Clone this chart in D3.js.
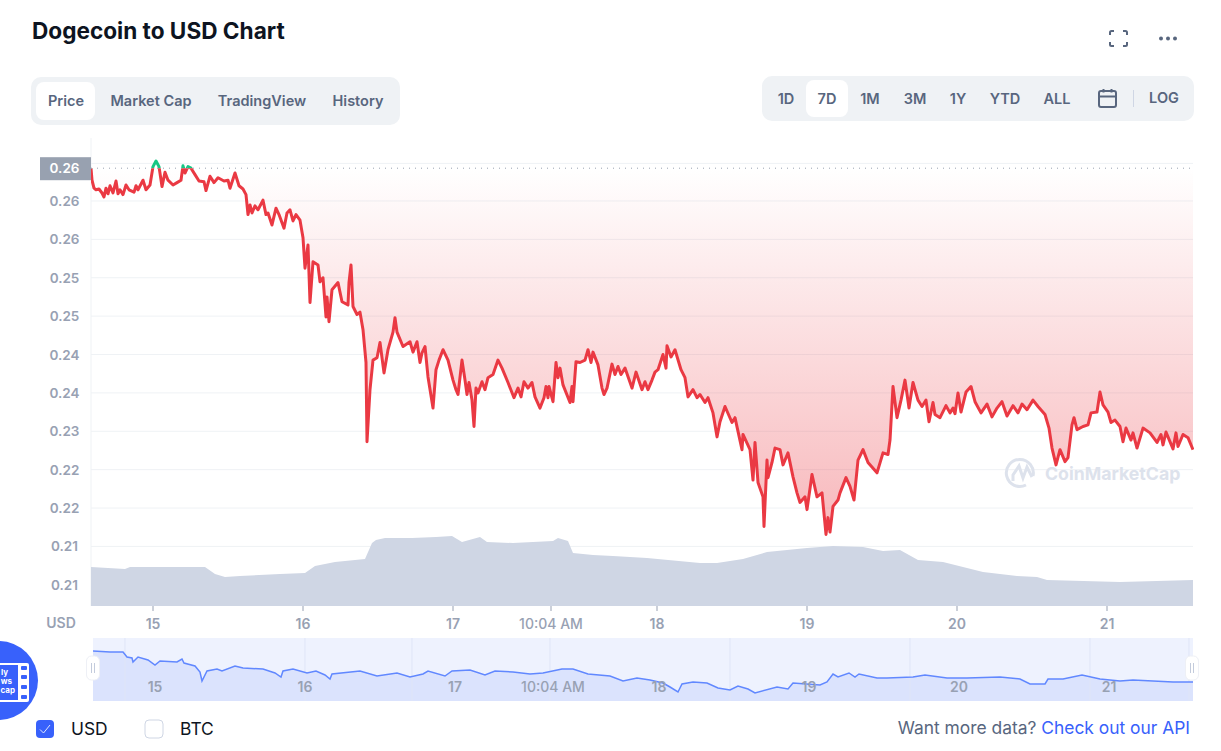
<!DOCTYPE html>
<html>
<head>
<meta charset="utf-8">
<title>Dogecoin to USD Chart</title>
<script src="https://cdn.jsdelivr.net/npm/d3@7"></script>
<style>
    html, body { margin: 0; padding: 0; background: #fff; overflow: hidden; }
    svg { display: block; font-family: Inter, "Noto Sans", sans-serif; }
</style>
</head>
<body>
<script>
// time is counted in samples along the axis, 150 samples make one day
const priceSamples = [0,1,3,5,8,11,13,15,17,19,22,25,27,29,32,35,38,43,45,47,52,55,59,62,65,68,71,74,77,82,86,90,92,94,97,100,104,108,113,115,119,123,127,133,137,139,144,148,152,155,157,159,161,164,167,172,175,177,181,185,188,193,196,199,202,205,209,212,
    214,217,219,222,227,229,232,235,236,238,241,247,251,257,258,260,262,266,269,272,275,276,279,282,286,289,293,297,302,304,306,312,319,322,326,
    329,331,334,337,342,345,348,352,357,362,365,367,371,374,376,378,381,383,385,387,391,394,397,402,407,411,417,423,427,430,433,437,441,444,449,453,455,457,458,462,465,467,469,472,479,481,482,485,489,494,497,500,502,507,511,513,516,521,524,527,530,534,541,545,551,554,557,561,564,567,572,575,576,580,584,590,594,597,602,606,609,614,617,622,626,629,
    634,641,644,651,652,659,662,664,667,672,673,676,677,681,684,689,692,697,702,706,709,714,716,721,726,731,735,737,739,742,747,749,755,759,763,767,772,777,786,792,797,
    799,802,806,810,814,818,822,827,831,835,838,842,844,849,855,859,862,864,867,870,875,880,884,890,896,901,906,911,916,922,927,931,936,942,947,954,958,961,965,969,974,977,981,983,986,992,997,1000,1006,1009,1012,1017,1020,1024,1029,1032,1035,1040,1042,1046,1052,1059,1066,1070,1072,1075,1082,1085,1087,1092,1097,1102];
const priceValues = [.2596,.2581,.2571,.2569,.2570,.2565,.2560,.2571,.2564,.2574,.2565,.2580,.2564,.2569,.2563,.2575,.2569,.2566,.2574,.2569,.2581,.2569,.2575,.2598,.2605,.2598,.2573,.2591,.2581,.2575,.2578,.2581,.2599,.2590,.2598,.2596,.2588,.2580,.2579,.2568,.2586,.2578,.2584,.2580,.2581,.2571,.2590,.2574,.2570,.2563,.2538,.2550,.2540,.2549,.2544,.2556,.2538,.2540,.2525,.2546,.2538,.2521,.2540,.2544,.2530,.2538,.2531,.2509,
    .2471,.2500,.2428,.2479,.2475,.2454,.2459,.2410,.2435,.2404,.2444,.2453,.2429,.2425,.2453,.2475,.2423,.2413,.2416,.2394,.2353,.2254,.2319,.2356,.2359,.2378,.2340,.2369,.2391,.2409,.2391,.2373,.2379,.2366,.2379,
    .2353,.2365,.2373,.2335,.2296,.2344,.2356,.2369,.2356,.2331,.2319,.2313,.2356,.2331,.2313,.2328,.2306,.2273,.2321,.2315,.2329,.2319,.2334,.2338,.2356,.2346,.2328,.2309,.2321,.2310,.2329,.2321,.2328,.2310,.2296,.2309,.2323,.2309,.2323,.2304,.2353,.2334,.2346,.2325,.2303,.2323,.2304,.2354,.2353,.2356,.2369,.2353,.2366,.2350,.2321,.2313,.2321,.2351,.2338,.2348,.2338,.2346,.2321,.2341,.2319,.2329,.2319,.2331,.2341,.2344,.2363,.2346,.2374,.2360,.2369,.2344,.2334,.2310,.2319,.2309,.2313,.2303,.2309,.2290,.2260,.2279,
    .2298,.2278,.2284,.2244,.2263,.2244,.2206,.2253,.2203,.2185,.2148,.2231,.2209,.2228,.2246,.2244,.2225,.2240,.2210,.2190,.2178,.2185,.2169,.2213,.2185,.2190,.2138,.2159,.2141,.2173,.2181,.2190,.2209,.2198,.2181,.2231,.2244,.2228,.2215,.2240,.2238,
    .2256,.2323,.2284,.2306,.2331,.2296,.2328,.2306,.2298,.2306,.2279,.2303,.2288,.2284,.2299,.2290,.2296,.2289,.2315,.2291,.2316,.2323,.2304,.2290,.2301,.2285,.2296,.2304,.2286,.2299,.2290,.2301,.2294,.2306,.2298,.2288,.2271,.2246,.2225,.2244,.2229,.2234,.2275,.2284,.2269,.2273,.2275,.2290,.2291,.2316,.2300,.2291,.2278,.2281,.2273,.2254,.2271,.2256,.2265,.2246,.2271,.2265,.2253,.2263,.2250,.2266,.2245,.2265,.2248,.2263,.2259,.2244];
const referencePrice = 0.2596;

const volumeSamples = [0,34,39,114,124,134,149,189,214,224,244,274,281,285,294,302,321,345,361,371,389,396,422,462,467,477,482,502,522,556,609,626,652,676,716,742,772,792,809,827,852,892,926,946,956,1029,1102];
const volumeValues = [39,37,39,39,32,29,30,32,33,40,44,47,63,66,68,68,68,69,70,64,69,64,63,65,68,65,53,51,50,48,43,43,47,54,58,60,59,55,56,46,44,34,30,29,26,24,26];

const navSamples = [2,19,32,36,41,42,47,57,64,69,86,91,93,104,109,111,116,126,131,144,152,172,184,190,192,202,216,225,234,239,241,269,286,306,319,332,337,354,361,379,394,404,422,439,452,471,482,497,519,532,546,559,572,579,587,591,602,616,627,639,647,657,664,686,697,702,729,736,742,747,758,764,768,786,796,822,834,856,876,909,929,939,954,957,972,991,1009,1029,1042,1082,1102];
const navValues = [.250,.249,.249,.244,.243,.239,.244,.241,.236,.240,.239,.242,.238,.235,.229,.220,.230,.232,.230,.235,.233,.232,.228,.224,.230,.232,.228,.230,.226,.222,.227,.230,.225,.228,.224,.227,.230,.225,.230,.231,.226,.230,.229,.227,.228,.232,.232,.227,.225,.220,.223,.221,.218,.214,.209,.217,.219,.218,.213,.211,.215,.212,.208,.214,.212,.218,.216,.219,.227,.224,.228,.224,.227,.223,.223,.224,.226,.223,.223,.224,.222,.217,.217,.222,.222,.226,.222,.220,.221,.219,.219];

const yTickValues = [.2602,.2555,.2507,.2459,.2411,.2363,.2315,.2267,.2219,.2171,.2123,.2075];
const yTickLabels = ["0.26","0.26","0.26","0.25","0.25","0.24","0.24","0.23","0.22","0.22","0.21","0.21"];
const xTickValues = [62,212,362,460,566,716,866,1016];
const xTickLabels = ["15","16","17","10:04 AM","18","19","20","21"];
const navGridValues = [34,214,321,459,639,819,999,1098];

const chartTabs = ["Price","Market Cap","TradingView","History"];
const chartTabCenters = [66,151,262,358];
const rangeTabs = ["1D","7D","1M","3M","1Y","YTD","ALL"];
const rangeTabCenters = [786,827,870,915,958,1005,1057];

const svg = d3.select("body").append("svg")
    .attr("width", 1221)
    .attr("height", 751);
const defs = svg.append("defs");

const xScale = d3.scaleLinear().domain([0, 1102]).range([91, 1193]);
const yScale = d3.scaleLinear().domain([.26, .2076]).range([165, 584]);
const volumeScale = d3.scaleLinear().domain([0, 70]).range([606, 536]);
const navScale = d3.scaleLinear().domain([.2, .263]).range([701, 638]);

const label = (x, y, text, size, weight, color, anchor) => svg.append("text")
    .attr("x", x).attr("y", y)
    .attr("font-size", size).attr("font-weight", weight)
    .attr("fill", color).attr("text-anchor", anchor || "middle")
    .text(text);

// header
label(32, 39, "Dogecoin to USD Chart", 22.600, 700, "#0d1421", "start");

svg.append("rect").attr("x", 31).attr("y", 77).attr("width", 369).attr("height", 48).attr("rx", 10).attr("fill", "#eff2f5");
svg.append("rect").attr("x", 36).attr("y", 82).attr("width", 59).attr("height", 38).attr("rx", 8).attr("fill", "#fff");
chartTabs.forEach((t, i) => label(chartTabCenters[i], 106, t, 14.500, 600, "#58667e"));

svg.append("rect").attr("x", 762).attr("y", 76).attr("width", 432).attr("height", 45).attr("rx", 10).attr("fill", "#eff2f5");
svg.append("rect").attr("x", 806).attr("y", 80).attr("width", 42).attr("height", 37).attr("rx", 8).attr("fill", "#fff");
rangeTabs.forEach((t, i) => label(rangeTabCenters[i], 104, t, 14.500, 600, "#58667e"));
label(1164, 103, "LOG", 14.500, 600, "#58667e");
svg.append("line").attr("x1", 1133.5).attr("x2", 1133.5).attr("y1", 90).attr("y2", 107).attr("stroke", "#cfd6e4");

// calendar icon
const calendar = svg.append("g").attr("fill", "none").attr("stroke", "#58667e").attr("stroke-width", 2);
calendar.append("rect").attr("x", 1099).attr("y", 91).attr("width", 17).attr("height", 16).attr("rx", 2);
calendar.append("path").attr("d", "M1099 96.5H1116M1103.5 89V92.5M1111.5 89V92.5");

// fullscreen and menu icons
svg.append("path")
    .attr("d", "M1110 35V32.5Q1110 31 1111.500 31H1114M1123 31H1125.500Q1127 31 1127 32.500V35M1127 42V44.500Q1127 46 1125.500 46H1123M1114 46H1111.500Q1110 46 1110 44.500V42")
    .attr("fill", "none").attr("stroke", "#58667e").attr("stroke-width", 2);
svg.selectAll(".menu-dot").data([1161, 1168, 1175]).enter().append("circle")
    .attr("class", "menu-dot").attr("cx", d => d).attr("cy", 38.500).attr("r", 2).attr("fill", "#58667e");

// grid and y axis
svg.selectAll(".grid").data(yTickValues).enter().append("line")
    .attr("class", "grid")
    .attr("x1", 91).attr("x2", 1193)
    .attr("y1", d => yScale(d)).attr("y2", d => yScale(d))
    .attr("stroke", "#eff2f5");
svg.append("line").attr("x1", 91).attr("x2", 91).attr("y1", 138).attr("y2", 606).attr("stroke", "#eff2f5");

svg.append("rect")
    .attr("x", 40).attr("y", yScale(referencePrice) - 11)
    .attr("width", 51).attr("height", 23)
    .attr("fill", "#98a1b0");
yTickValues.forEach((v, i) => {
    const y = i === 0 ? yScale(referencePrice) + 5 : yScale(v) + 5;
    label(64.500, y, yTickLabels[i], 13.500, 600, i === 0 ? "#fff" : "#98a1b3");
});

// red fill between the price and the reference line
const gradient = defs.append("linearGradient")
    .attr("id", "priceFill")
    .attr("gradientUnits", "userSpaceOnUse")
    .attr("x1", 0).attr("x2", 0)
    .attr("y1", yScale(referencePrice)).attr("y2", yScale(.2138));
gradient.append("stop").attr("offset", 0).attr("stop-color", "#ea3943").attr("stop-opacity", 0);
gradient.append("stop").attr("offset", 1).attr("stop-color", "#ea3943").attr("stop-opacity", .36);

svg.append("path")
    .attr("d", d3.area()
        .x((d, i) => xScale(priceSamples[i]))
        .y0(yScale(referencePrice))
        .y1(d => yScale(Math.min(d, referencePrice)))(priceValues))
    .attr("fill", "url(#priceFill)");

// volume
svg.append("path")
    .attr("d", d3.area()
        .x((d, i) => xScale(volumeSamples[i]))
        .y0(volumeScale(0))
        .y1(d => volumeScale(d))(volumeValues))
    .attr("fill", "#cfd6e4");

// watermark
const logo = svg.append("g").attr("fill", "none").attr("stroke", "#dde2ec").attr("stroke-width", 3);
logo.append("path").attr("d", "M1033 476A13.500 13.500 0 1 0 1026 485");
logo.append("path").attr("d", "M1013 481V475L1019 466L1023 478L1027 467L1032 477");
label(1045, 480, "CoinMarketCap", 17.700, 700, "#dde2ec", "start");

// price line, green above the reference and red below it
defs.append("clipPath").attr("id", "aboveRef").append("rect")
    .attr("x", 91).attr("width", 1102).attr("y", 130).attr("height", yScale(referencePrice) - 130);
defs.append("clipPath").attr("id", "belowRef").append("rect")
    .attr("x", 91).attr("width", 1103).attr("y", yScale(referencePrice)).attr("height", 450);

const priceLine = d3.line()
    .x((d, i) => xScale(priceSamples[i]))
    .y(d => yScale(d));
svg.append("path").attr("d", priceLine(priceValues)).attr("clip-path", "url(#aboveRef)")
    .attr("fill", "none").attr("stroke", "#16c784").attr("stroke-width", 3).attr("stroke-linejoin", "round");
svg.append("path").attr("d", priceLine(priceValues)).attr("clip-path", "url(#belowRef)")
    .attr("fill", "none").attr("stroke", "#ea3943").attr("stroke-width", 3).attr("stroke-linejoin", "round");

svg.append("line")
    .attr("x1", 91).attr("x2", 1193)
    .attr("y1", yScale(referencePrice)).attr("y2", yScale(referencePrice))
    .attr("stroke", "#98a1b0").attr("stroke-width", 1).attr("stroke-dasharray", "1 5");

// x axis
xTickValues.forEach((v, i) => {
    svg.append("line")
        .attr("x1", xScale(v)).attr("x2", xScale(v))
        .attr("y1", 606).attr("y2", 611)
        .attr("stroke", "#98a1b3");
    label(xScale(v), 629, xTickLabels[i], 14, i === 3 ? 500 : 600, "#98a1b3");
});
label(61, 628, "USD", 14, 600, "#98a1b3");

// navigator
svg.append("rect").attr("x", 93).attr("y", 638).attr("width", 1100).attr("height", 63).attr("fill", "#eef2fe");
defs.append("clipPath").attr("id", "navClip").append("rect")
    .attr("x", 93).attr("y", 638).attr("width", 1100).attr("height", 63);
const nav = svg.append("g").attr("clip-path", "url(#navClip)");
nav.append("path")
    .attr("d", d3.area()
        .x((d, i) => xScale(navSamples[i]))
        .y0(navScale.range()[0])
        .y1(d => navScale(d))(navValues))
    .attr("fill", "#dbe3fd");
nav.selectAll(".nav-grid").data(navGridValues).enter().append("line")
    .attr("class", "nav-grid")
    .attr("x1", d => xScale(d)).attr("x2", d => xScale(d))
    .attr("y1", 638).attr("y2", 701)
    .attr("stroke", "#dfe5f7");
nav.append("path")
    .attr("d", d3.line().x((d, i) => xScale(navSamples[i])).y(d => navScale(d))(navValues))
    .attr("fill", "none").attr("stroke", "#6188ff").attr("stroke-width", 1.500);
xTickValues.forEach((v, i) => {
    nav.append("text")
        .attr("x", xScale(v) + 2).attr("y", 692)
        .attr("font-size", 14).attr("font-weight", i === 3 ? 500 : 600)
        .attr("fill", "#98a1b3").attr("text-anchor", "middle")
        .text(xTickLabels[i]);
});
[93, 1192].forEach(cx => {
    svg.append("rect").attr("x", cx - 6.500).attr("y", 656).attr("width", 13).attr("height", 24).attr("rx", 5)
        .attr("fill", "#fff").attr("stroke", "#eef0f6");
    svg.append("path").attr("d", `M${cx - 1.500} 663V673M${cx + 1.500} 663V673`).attr("stroke", "#c3cbdc");
});

// news badge
svg.append("circle").attr("cx", -1.500).attr("cy", 680.500).attr("r", 39.500).attr("fill", "#3861fb");
svg.append("rect").attr("x", -3).attr("y", 663).attr("width", 32).attr("height", 39).attr("rx", 2).attr("fill", "#fff");
svg.append("rect").attr("x", -3).attr("y", 665).attr("width", 21).attr("height", 35).attr("fill", "#3861fb");
svg.selectAll(".film").data([666, 675, 685, 695]).enter().append("rect")
    .attr("class", "film").attr("x", 21).attr("y", d => d).attr("width", 6).attr("height", 4).attr("rx", 1).attr("fill", "#3861fb");
label(8, 675, "ly", 8, 700, "#fff", "end");
label(12, 684, "ws", 8, 700, "#fff", "end");
label(15, 693, "cap", 8, 700, "#fff", "end");

// legend
svg.append("rect").attr("x", 36).attr("y", 720).attr("width", 18).attr("height", 18).attr("rx", 4).attr("fill", "#3861fb");
svg.append("path").attr("d", "M40 729.500L43.500 733L50 725").attr("fill", "none").attr("stroke", "#dfe6ff").attr("stroke-width", 1);
label(71, 735, "USD", 17.400, 400, "#0d1421", "start");
svg.append("rect").attr("x", 145).attr("y", 720).attr("width", 18).attr("height", 18).attr("rx", 4)
    .attr("fill", "#fff").attr("stroke", "#cfd6e4");
label(180, 735, "BTC", 17.400, 400, "#0d1421", "start");

const more = svg.append("text").attr("x", 1190).attr("y", 734).attr("font-size", 17.400).attr("text-anchor", "end");
more.append("tspan").attr("fill", "#58667e").text("Want more data? ");
more.append("tspan").attr("fill", "#3861fb").text("Check out our API");
</script>
</body>
</html>
